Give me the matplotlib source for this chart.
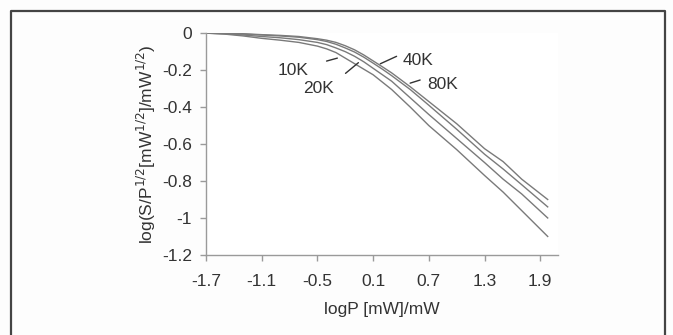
import matplotlib

matplotlib.use("Agg")
import matplotlib.pyplot as plt
from matplotlib.lines import Line2D

# log P [mW]/mW
log_p = [-1.7, -1.5, -1.3, -1.1, -0.9, -0.7, -0.5, -0.4, -0.3, -0.2, -0.1, 0.0, 0.1, 0.2, 0.3,
         0.5, 0.7, 1.0, 1.3, 1.5, 1.7, 1.98]

# log(S/P^1/2), one curve per temperature
curve_10k = [0, -0.005, -0.015, -0.028, -0.038, -0.05, -0.07, -0.085, -0.105, -0.135, -0.165,
             -0.195, -0.225, -0.265, -0.305, -0.40, -0.50, -0.63, -0.77, -0.86, -0.96, -1.10]
curve_20k = [0, -0.003, -0.01, -0.018, -0.025, -0.035, -0.05, -0.062, -0.08, -0.10, -0.125,
             -0.155, -0.19, -0.225, -0.26, -0.35, -0.44, -0.57, -0.70, -0.79, -0.87, -1.00]
curve_40k = [0, -0.002, -0.005, -0.01, -0.015, -0.022, -0.035, -0.045, -0.06, -0.08, -0.102,
             -0.13, -0.162, -0.195, -0.23, -0.305, -0.39, -0.52, -0.655, -0.735, -0.82, -0.94]
curve_80k = [0, -0.001, -0.003, -0.008, -0.012, -0.018, -0.03, -0.038, -0.05, -0.068, -0.09,
             -0.118, -0.15, -0.182, -0.215, -0.29, -0.37, -0.49, -0.625, -0.695, -0.79, -0.90]

x_ticks = [-1.7, -1.1, -0.5, 0.1, 0.7, 1.3, 1.9]
y_ticks = [0, -0.2, -0.4, -0.6, -0.8, -1, -1.2]
y_tick_labels = ["0", "-0.2", "-0.4", "-0.6", "-0.8", "-1", "-1.2"]

# label text position, arrow start, arrow end (data coords)
labels = [
    ("10K", (-0.76, -0.20), (-0.43, -0.155), (-0.256, -0.131)),
    ("20K", (-0.49, -0.30), (-0.22, -0.227), (-0.035, -0.150)),
    ("40K", (0.58, -0.15), (0.38, -0.119), (0.15, -0.172)),
    ("80K", (0.85, -0.28), (0.635, -0.249), (0.47, -0.275)),
]

plt.rcParams["font.family"] = ["Liberation Sans", "DejaVu Sans"]

fig = plt.figure(figsize=(6.73, 3.35), dpi=100)
fig.patch.set_facecolor("#fdfdfd")
ax = fig.add_axes([0.306, 0.239, 0.523, 0.662])
ax.set_facecolor("white")

line_color = "#7a7a7a"
for ys in (curve_10k, curve_20k, curve_40k, curve_80k):
    ax.plot(log_p, ys, color=line_color, lw=1.0)

for text, txt_pos, a_start, a_end in labels:
    ax.text(txt_pos[0], txt_pos[1], text, fontsize=12.5, color="#333333",
            ha="center", va="center")
    ax.annotate("", xy=a_end, xytext=a_start,
                arrowprops=dict(arrowstyle="-", color="#333333", lw=1.0))

ax.set_xlim(-1.7, 2.09)
ax.set_ylim(-1.2, 0)
ax.set_xticks(x_ticks)
ax.set_xticklabels([f"{v:g}" for v in x_ticks])
ax.set_yticks(y_ticks)
ax.set_yticklabels(y_tick_labels)

for side in ("top", "right"):
    ax.spines[side].set_visible(False)
for side in ("left", "bottom"):
    ax.spines[side].set_color("#9a9a9a")
    ax.spines[side].set_linewidth(1.0)

ax.tick_params(axis="both", colors="#9a9a9a", length=4, width=1.0,
               labelsize=12.5, labelcolor="#333333")
ax.tick_params(axis="x", pad=10)
ax.tick_params(axis="y", pad=6)

ax.set_xlabel("logP [mW]/mW", fontsize=12.5, color="#333333", labelpad=9)
ax.set_ylabel(r"log(S/P$^{1/2}$[mW$^{1/2}$]/mW$^{1/2}$)", fontsize=12.5,
              color="#333333", labelpad=3)

# outer frame (left, top, right edges)
W, H = 673, 335
x0, x1, y0 = 10.5 / W, 664.5 / W, 1 - 10.5 / H
fig.add_artist(Line2D([x0, x0, x1, x1], [-0.05, y0, y0, -0.05],
                      transform=fig.transFigure, color="#444444", lw=1.6))

fig.savefig("out.png", dpi=100)
plt.close(fig)
